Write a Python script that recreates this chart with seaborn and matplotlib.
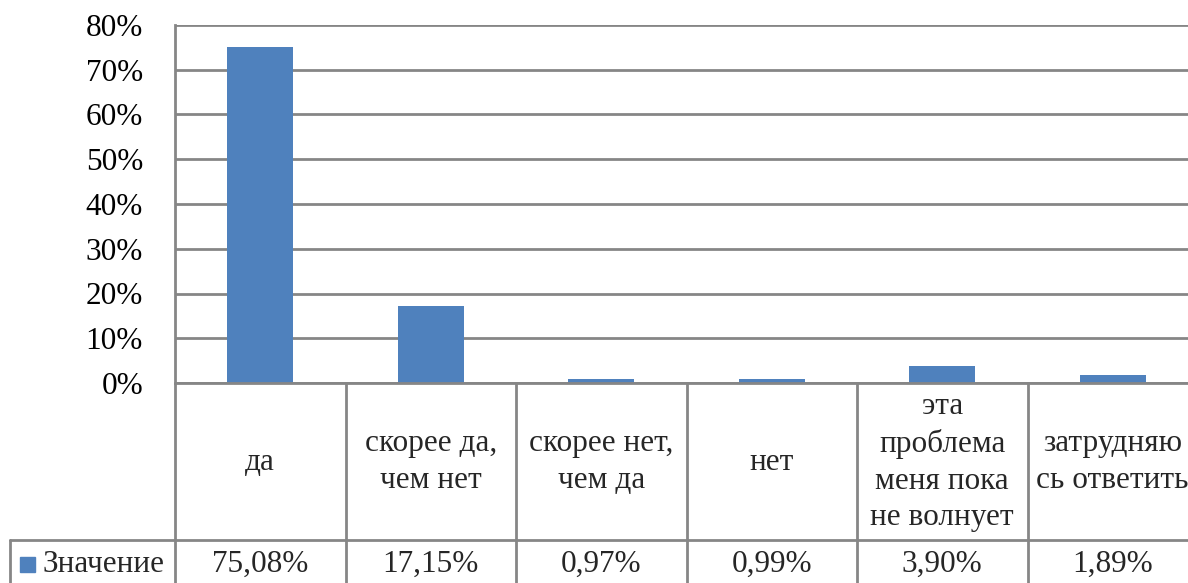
import matplotlib
matplotlib.use("Agg")
import matplotlib.pyplot as plt
import matplotlib.transforms as mtransforms
from matplotlib.ticker import FuncFormatter, MultipleLocator
import seaborn as sns
import pandas as pd

categories = ["да", "скорее да,\nчем нет", "скорее нет,\nчем да", "нет",
              "эта\nпроблема\nменя пока\nне волнует", "затрудняю\nсь ответить"]
values = [75.08, 17.15, 0.97, 0.99, 3.90, 1.89]
series_name = "Значение"

bar_color = "#4F81BD"
line_color = "#868686"
fs = 22.5

sns.set_theme(style="white")
plt.rcParams["font.family"] = ["Liberation Serif", "DejaVu Serif"]

W, H = 1188, 583
fig = plt.figure(figsize=(W / 100, H / 100), dpi=100)
ax = fig.add_axes([175 / W, 1 - 383 / H, 1023 / W, 358 / H])

df = pd.DataFrame({"cat": categories, "val": [v / 100 for v in values]})
sns.barplot(data=df, x="cat", y="val", color=bar_color, saturation=1,
            width=0.39, ax=ax, linewidth=0)

ax.set_xlim(-0.5, len(categories) - 0.5)
ax.set_ylim(0, 0.8)
ax.yaxis.set_major_locator(MultipleLocator(0.1))
ax.yaxis.set_major_formatter(FuncFormatter(lambda v, p: f"{v * 100:.0f}%"))
ax.tick_params(axis="y", labelsize=fs, pad=23, length=0, colors="black")
for lbl in ax.get_yticklabels():
    lbl.set_y(lbl.get_position()[1])
ax.set_xticks([])
ax.set_xlabel("")
ax.set_ylabel("")
ax.grid(axis="y", color=line_color, linewidth=2)
ax.set_axisbelow(True)
for side in ["top", "right", "bottom"]:
    ax.spines[side].set_visible(False)
ax.spines["left"].set_color(line_color)
ax.spines["left"].set_linewidth(2)

# data table under the chart
trans = mtransforms.blended_transform_factory(ax.transData, ax.transAxes)
ftrans = mtransforms.blended_transform_factory(fig.transFigure, ax.transAxes)
ph = 358.0
y_row = -(540 - 383) / ph
y_bot = -(600 - 383) / ph
ax.plot([-0.5, len(categories) - 0.5], [0, 0], transform=trans,
        color=line_color, lw=2, clip_on=False)
for i in range(len(categories)):
    ax.plot([i - 0.5, i - 0.5], [0, y_bot], transform=trans,
            color=line_color, lw=2, clip_on=False)
ax.plot([10 / W, 1.05], [y_row, y_row], transform=ftrans,
        color=line_color, lw=2, clip_on=False)
ax.plot([10 / W, 10 / W], [y_row, y_bot], transform=ftrans,
        color=line_color, lw=2, clip_on=False)

y_cat = -(462 - 383) / ph
y_val = -(564 - 383) / ph
for i, (c, v) in enumerate(zip(categories, values)):
    ax.text(i, y_cat, c, transform=trans, ha="center", va="center",
            fontsize=fs, linespacing=1.35, clip_on=False)
    ax.text(i, y_val, f"{v:.2f}%".replace(".", ","), transform=trans,
            ha="center", va="center", fontsize=fs, clip_on=False)

fig.patches.append(plt.Rectangle((20 / W, 1 - 572 / H), 15 / W, 15 / H,
                                 transform=fig.transFigure, color=bar_color))
fig.text(42 / W, 1 - 564 / H, series_name, ha="left", va="center", fontsize=fs)

fig.savefig("out.png", dpi=100)
